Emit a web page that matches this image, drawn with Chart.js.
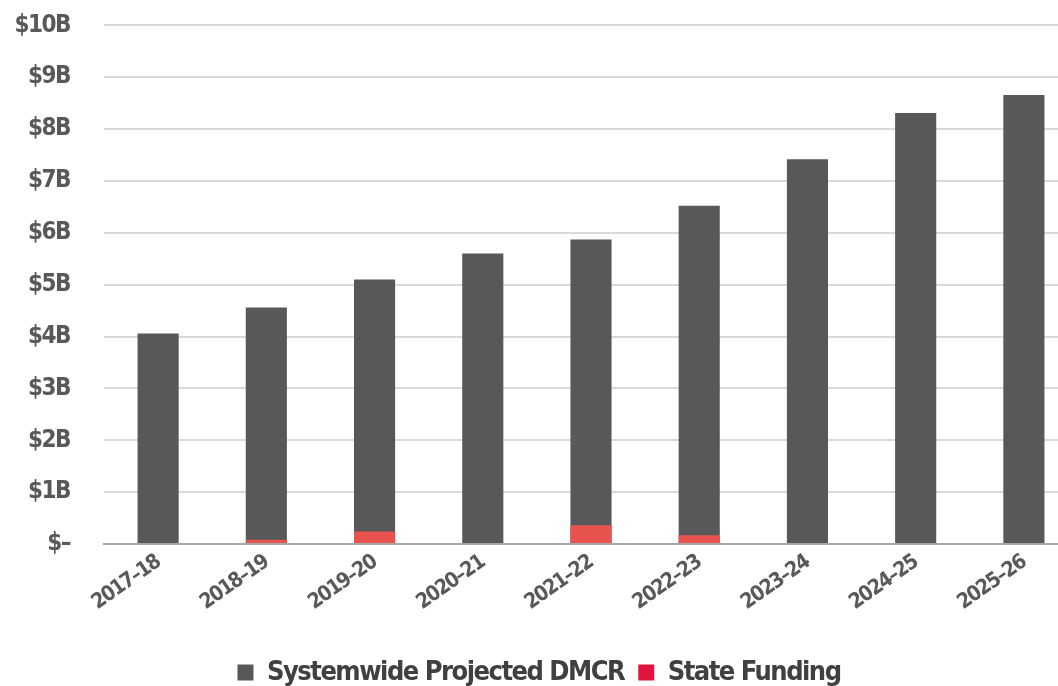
<!DOCTYPE html>
<html>
<head>
<meta charset="utf-8">
<script src="https://cdn.jsdelivr.net/npm/chart.js@4"></script>
<style>
  html, body { margin: 0; padding: 0; background: #ffffff; overflow: hidden; }
  #wrap { width: 1080px; height: 712px; position: absolute; left: 0; top: -23px; }
</style>
</head>
<body>
<div id="wrap"><canvas id="c"></canvas></div>
<script>
const categories = ['2017–18','2018–19','2019–20','2020–21','2021–22','2022–23','2023–24','2024–25','2025–26'];
const dmcr = [4.06, 4.56, 5.10, 5.60, 5.87, 6.52, 7.42, 8.31, 8.66];
const stateFunding = [0, 0.08, 0.24, 0, 0.36, 0.17, 0, 0, 0];
const yTicks = [0,1,2,3,4,5,6,7,8,9,10];

const FONT = "'DejaVu Sans Condensed', 'DejaVu Sans', sans-serif";
const DARK = '#58585a';
const RED_BAR = '#e8524f';
const RED_LEGEND = '#e0143c';

const condensePlugin = {
  id: 'condense',
  beforeInit(chart) { try { chart.ctx.letterSpacing = '-1.5px'; } catch (e) {} },
  beforeUpdate(chart) { try { chart.ctx.letterSpacing = '-1.5px'; } catch (e) {} },
  beforeDraw(chart) { try { chart.ctx.letterSpacing = '-1.5px'; } catch (e) {} }
};

new Chart(document.getElementById('c'), {
  type: 'bar',
  plugins: [condensePlugin],
  data: {
    labels: categories,
    datasets: [
      { label: 'Systemwide Projected DMCR', data: dmcr, backgroundColor: DARK, order: 1,
        barPercentage: 0.38, categoryPercentage: 1.0 },
      { label: 'State Funding', data: stateFunding, backgroundColor: RED_BAR, order: 0,
        barPercentage: 0.38, categoryPercentage: 1.0 }
    ]
  },
  options: {
    responsive: true,
    maintainAspectRatio: false,
    animation: false,
    layout: { padding: { top: -13, right: 2, bottom: -7, left: 0 } },
    plugins: {
      tooltip: { enabled: false },
      legend: {
        position: 'bottom',
        labels: {
          boxWidth: 16, boxHeight: 16, padding: 14,
          color: '#404040',
          font: { family: FONT, size: 27, weight: 'bold' },
          sort: (a, b) => a.datasetIndex - b.datasetIndex,
          generateLabels: (chart) => {
            const items = Chart.defaults.plugins.legend.labels.generateLabels(chart);
            items.forEach(it => {
              it.fillStyle = it.datasetIndex === 1 ? RED_LEGEND : DARK;
              it.strokeStyle = 'rgba(0,0,0,0)';
              it.lineWidth = 0;
            });
            return items;
          }
        }
      }
    },
    scales: {
      x: {
        stacked: true,
        grid: { display: false, drawTicks: false },
        border: { display: true, color: '#a6a6a6', width: 2 },
        ticks: {
          color: '#595959',
          font: { family: FONT, size: 21, weight: 'bold' },
          minRotation: 35, maxRotation: 35, padding: 6
        },
        afterFit: (s) => { s.height = 101; }
      },
      y: {
        stacked: false,
        min: 0, max: 10,
        afterBuildTicks: (s) => { s.ticks = yTicks.map(v => ({ value: v })); },
        grid: { color: '#d9d9d9', lineWidth: 2, drawTicks: false },
        border: { display: false },
        ticks: {
          color: '#595959',
          font: { family: FONT, size: 24, weight: 'bold' },
          padding: 34,
          callback: (v) => v === 0 ? '$–' : '$' + v + 'B'
        },
        afterFit: (s) => { s.width = 104; }
      }
    }
  }
});
</script>
</body>
</html>
